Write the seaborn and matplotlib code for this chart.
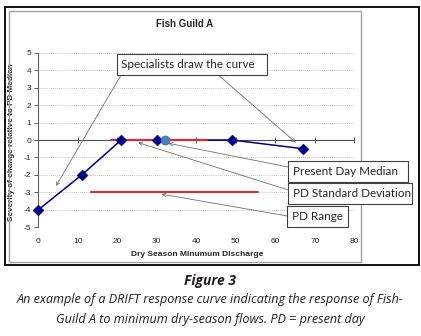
import matplotlib
matplotlib.use("Agg")
import matplotlib.pyplot as plt
import seaborn as sns
import pandas as pd
from matplotlib.patches import Rectangle

# --- data ---
discharge = [0, 11, 21, 30, 49, 67]
severity = [-4, -2, 0, 0, 0, -0.5]
median_x = [32]
median_y = [0]
std_x = [18.3, 42.7]
std_y = [0, 0]
range_x = [13.3, 55.5]
range_y = [-3, -3]
x_ticks = [0, 10, 20, 30, 40, 50, 60, 70, 80]
y_ticks = [-5, -4, -3, -2, -1, 0, 1, 2, 3, 4, 5]

curve = pd.DataFrame({"x": discharge, "y": severity})
median = pd.DataFrame({"x": median_x, "y": median_y})

sns.set_style("white")
plt.rcParams["font.family"] = ["Liberation Sans", "DejaVu Sans"]

W, H = 421, 336
fig = plt.figure(figsize=(W / 100, H / 100), dpi=100)


def fx(px):
    return px / W


def fy(py):
    return 1 - py / H


# frames around the chart
fig.patches.append(Rectangle((fx(5.3), fy(265)), fx(413.7), 258.3 / H, transform=fig.transFigure,
                             fill=False, edgecolor="black", linewidth=1.3))
fig.patches.append(Rectangle((fx(9), fy(262)), fx(351.7), 251 / H, transform=fig.transFigure,
                             fill=False, edgecolor="#a0a0a0", linewidth=1.0))

ax = fig.add_axes([fx(38.3), fy(227.3), fx(316), 174.6 / H])
ax.set_xlim(0, 80)
ax.set_ylim(-5, 5)

# dotted gridlines
for yv in y_ticks:
    if yv != 0:
        ax.axhline(yv, color="#b0b0b0", linestyle=(0, (1, 1.5)), linewidth=0.6, zorder=0)

for s in ["top", "right"]:
    ax.spines[s].set_visible(False)
ax.spines["left"].set_color("#606060")
ax.spines["left"].set_linewidth(0.8)
ax.spines["bottom"].set_position(("data", 0))
ax.spines["bottom"].set_color("#505050")
ax.spines["bottom"].set_linewidth(0.8)

ax.set_yticks(y_ticks)
ax.set_yticklabels([str(v) for v in y_ticks])
ax.tick_params(axis="y", direction="out", length=3, width=0.7, color="#606060",
               labelsize=6, pad=2, left=True)
ax.set_xticks(x_ticks)
ax.tick_params(axis="x", direction="inout", length=4, width=0.7, color="#505050",
               labelbottom=False, bottom=True)

sec = ax.secondary_xaxis("bottom")
sec.set_xticks(x_ticks)
sec.set_xticklabels([str(v) for v in x_ticks])
sec.tick_params(length=0, labelsize=6, pad=8)
sec.spines["bottom"].set_visible(False)

# curve + present day markers
sns.lineplot(data=curve, x="x", y="y", color="#000080", linewidth=1.1, ax=ax, zorder=3, clip_on=False)
sns.lineplot(x=std_x, y=std_y, color="#e8262a", linewidth=1.5, ax=ax, zorder=4)
sns.lineplot(x=range_x, y=range_y, color="#e8262a", linewidth=1.5, ax=ax, zorder=4)
sns.scatterplot(data=curve, x="x", y="y", marker="D", s=30, color="#000080", edgecolor="#000080",
                ax=ax, zorder=5, clip_on=False)
sns.scatterplot(data=median, x="x", y="y", marker="o", s=42, color="#4f81bd", edgecolor="#3a6aa0",
                linewidth=0.5, ax=ax, zorder=6)

ax.set_xlabel("")
ax.set_ylabel("Severity of change relative to PD Median", fontsize=5.9, fontweight="bold")
ax.yaxis.set_label_coords(-0.074, 0.49)
sec.set_xlabel("")
fig.text(fx(196.7), fy(255), "Dry Season Minumum Discharge", fontsize=6, fontweight="bold",
         ha="center", va="center")
fig.text(fx(184.5), fy(24), "Fish Guild A", fontsize=7, fontweight="bold", ha="center", va="center")

# annotation boxes
boxes = [
    ("Specialists draw the curve", 116.7, 54.3, 266.7, 75),
    ("Present Day Median", 288.3, 160.7, 408.3, 181.7),
    ("PD Standard Deviation", 288.3, 183.3, 411.7, 204),
    ("PD Range", 287.3, 206, 348.3, 227.3),
]
for label, x0, y0, x1, y1 in boxes:
    fig.patches.append(Rectangle((fx(x0), fy(y1)), fx(x1 - x0), (y1 - y0) / H, transform=fig.transFigure,
                                 facecolor="white", edgecolor="#404040", linewidth=0.8, zorder=10))
    fig.text(fx(x0 + 4.5), fy((y0 + y1) / 2), label, fontsize=8.4, family=["Lato", "DejaVu Sans"],
             ha="left", va="center", zorder=11)

arrows = [
    ((4.5, -2.63), (121, 75)),
    ((65.2, -0.15), (218.3, 75)),
    ((33, -0.19), (288.3, 167)),
    ((25.3, -0.15), (288.3, 190)),
    ((31.2, -3.1), (287.3, 216)),
]
for target, start in arrows:
    ax.annotate("", xy=target, xycoords="data", xytext=(fx(start[0]), fy(start[1])),
                textcoords="figure fraction",
                arrowprops=dict(arrowstyle="->", color="#707070", linewidth=0.6,
                                shrinkA=0, shrinkB=0, mutation_scale=6),
                annotation_clip=False)

# caption
cap_font = ["Open Sans", "DejaVu Sans"]
fig.text(0.5, fy(280.7), "Figure 3", fontsize=10, fontweight="bold", style="italic",
         family=cap_font, ha="center", va="center", color="#231f20")
fig.text(0.5, fy(300), "An example of a DRIFT response curve indicating the response of Fish-",
         fontsize=9.1, style="italic", family=cap_font, ha="center", va="center", color="#231f20")
fig.text(0.5, fy(319.3), "Guild A to minimum dry-season flows. PD = present day",
         fontsize=9.1, style="italic", family=cap_font, ha="center", va="center", color="#231f20")

fig.savefig("out.png", dpi=100)
